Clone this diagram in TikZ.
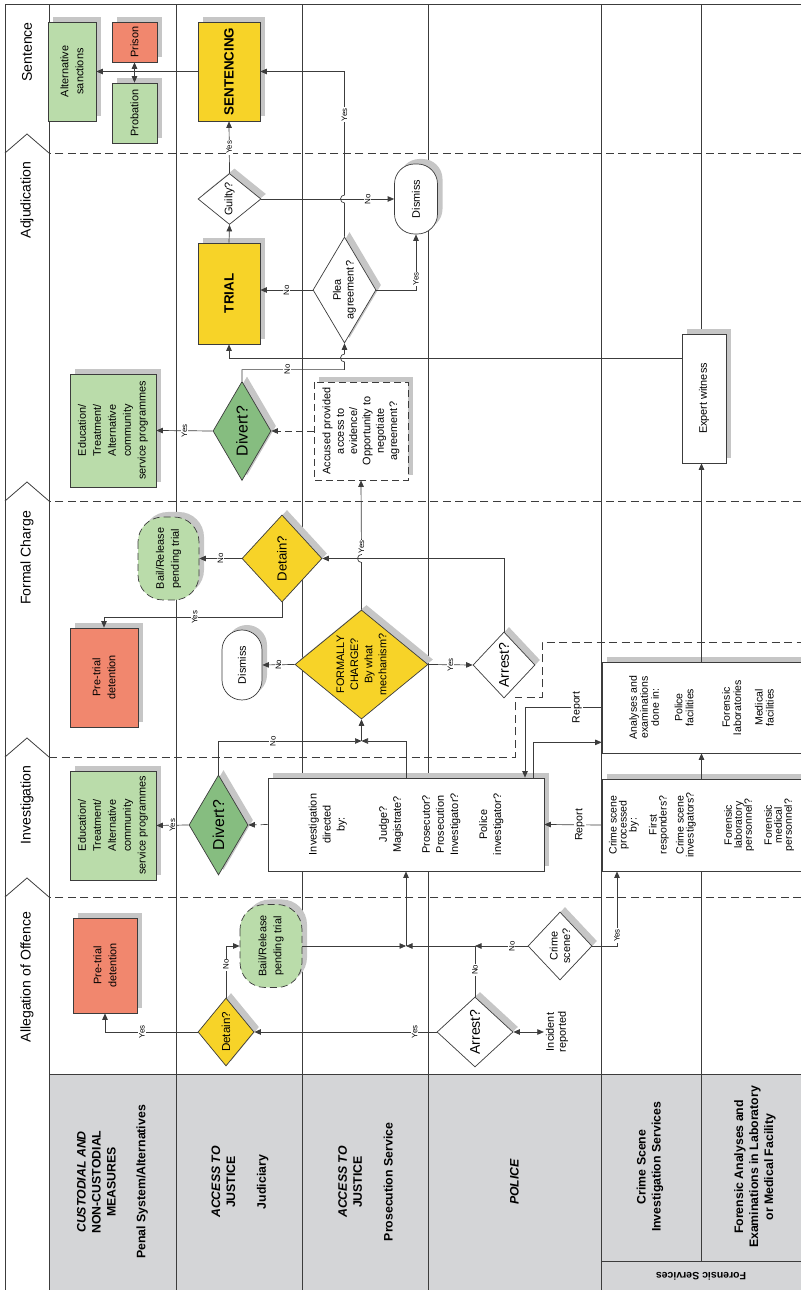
\documentclass[tikz,border=0pt]{standalone}
\usepackage{fontspec}
\setmainfont{Liberation Sans}
\usetikzlibrary{shapes.geometric,arrows.meta,shadows,calc}
\definecolor{flowyellow}{RGB}{247,211,40}
\definecolor{flowsalmon}{RGB}{241,135,110}
\definecolor{flowgreen}{RGB}{186,220,170}
\definecolor{flowdarkgreen}{RGB}{134,189,128}
\definecolor{headgray}{RGB}{212,213,215}
\definecolor{shadowgray}{RGB}{198,198,198}
\definecolor{inkgray}{RGB}{60,60,60}

\begin{document}
\begin{tikzpicture}[x=0.2mm, y=0.2mm,
    >={Triangle[length=1.3mm,width=1.1mm]},
    castshadow/.style={drop shadow={shadow xshift=1mm, shadow yshift=1mm, fill=shadowgray, opacity=1}},
    flowbox/.style={rectangle, draw=inkgray, line width=0.4pt, inner sep=1pt, align=center,
      font=\fontsize{6.2}{8.5}\selectfont, castshadow},
    query/.style={diamond, draw=inkgray, line width=0.4pt, inner sep=0pt, align=center,
      font=\fontsize{6.2}{7.2}\selectfont, castshadow},
    terminal/.style={flowbox, rounded corners=4mm},
    dashedge/.style={dash pattern=on 1.4mm off 0.8mm},
    link/.style={draw=inkgray, line width=0.4pt},
    yesno/.style={fill=white, inner sep=0.5pt, font=\fontsize{4.5}{5}\selectfont},
    reportlbl/.style={fill=white, inner sep=0.8pt, font=\fontsize{6}{7}\selectfont},
    laneline/.style={draw=inkgray, line width=0.45pt},
    phaseline/.style={draw=inkgray, line width=0.5pt, dash pattern=on 1.6mm off 0.9mm},
    phasename/.style={font=\fontsize{8}{9}\selectfont},
    lanehead/.style={align=center, font=\fontsize{7}{8.5}\selectfont\bfseries}]
\useasboundingbox (0,0) rectangle (801,1290);
\begin{scope}[shift={(801,0)}, rotate=90, transform shape]
\fill[headgray] (0,0) rectangle (216,752);
\draw[laneline] (0,796) -- (1286,796) -- (1286,0);
\foreach \y in {752,625,499,373,200}
  \draw[laneline] (0,\y) -- (1286,\y);
\draw[laneline] (29,99.5) -- (1286,99.5);
\draw[laneline] (216,0) -- (216,752);
\draw[laneline] (29,0) -- (29,200);
\foreach \x in {393,789,1137}
  \draw[phaseline] (\x,0) -- (\x,752);
\draw[phaseline] (533,752) -- (533,286) -- (593,286) -- (593,259) -- (648,259) -- (648,0);
\foreach \x in {393,533,789,1137}
  \draw[laneline] (\x,752) -- (\x+19,774) -- (\x,796);

\node[phasename] (allegation) at (313,774) {Allegation of Offence};
\node[phasename] (investigation) at (485,774) {Investigation};
\node[phasename] (formalcharge) at (732,774) {Formal Charge};
\node[phasename] (adjudication) at (1090,774) {Adjudication};
\node[phasename] (sentence) at (1238,774) {Sentence};

\node[lanehead] (penal) at (108,688.5) {\itshape CUSTODIAL AND\\NON-CUSTODIAL\\MEASURES\\[8.5pt]\upshape Penal System/Alternatives};
\node[lanehead] (judiciary) at (108,561) {\itshape ACCESS TO\\JUSTICE\\[9pt]\upshape Judiciary};
\node[lanehead] (prosecution) at (108,435.5) {\itshape ACCESS TO\\JUSTICE\\[9pt]\upshape Prosecution Service};
\node[lanehead] (police) at (108,286.5) {\itshape POLICE};
\node[lanehead] (csi) at (123,151) {Crime Scene\\Investigation Services};
\node[lanehead] (forensiclab) at (123,46) {Forensic Analyses and\\Examinations in Laboratory\\or Medical Facility};
\node[lanehead, font=\fontsize{6}{7}\selectfont\bfseries, rotate=90] (forensic) at (14,100) {Forensic Services};

\node[flowbox, fill=flowgreen, minimum width=19.8mm, minimum height=9.6mm] (altsanc) at (1218.5,729) {Alternative\\sanctions};
\node[flowbox, fill=flowsalmon, minimum width=8mm, minimum height=9mm] (prison) at (1248,666.5) {Prison};
\node[flowbox, fill=flowgreen, minimum width=12mm, minimum height=9mm] (probation) at (1177,666.5) {Probation};
\node[flowbox, fill=flowyellow, minimum width=19.8mm, minimum height=12.4mm, font=\fontsize{7.6}{9}\selectfont\bfseries] (sentencing) at (1218.5,572) {SENTENCING};
\node[query, fill=white, minimum width=10.2mm, minimum height=12.6mm] (guilty) at (1091,571.5) {Guilty?};
\node[flowbox, fill=flowyellow, minimum width=20.2mm, minimum height=12.4mm, font=\fontsize{7.6}{9}\selectfont\bfseries] (trial) at (996.5,572) {TRIAL};
\node[query, fill=white, aspect=2, minimum width=21.2mm, minimum height=12.6mm] (plea) at (1000,456.5) {Plea\\agreement?};
\node[terminal, fill=white, minimum width=14mm, minimum height=8.6mm] (dismissB) at (1091,385) {Dismiss};

\node[query, fill=flowdarkgreen, aspect=1.8, minimum width=19.8mm, minimum height=11.6mm, font=\fontsize{9}{10}\selectfont] (divertB) at (859,559) {Divert?};
\node[flowbox, fill=flowgreen, minimum width=22.6mm, minimum height=17.2mm] (eduB) at (859.5,688) {Education/\\Treatment/\\Alternative\\community\\service programmes};
\node[flowbox, fill=white, dashedge, minimum width=19.6mm, minimum height=18.8mm, font=\fontsize{6.2}{7.6}\selectfont] (accused) at (859,440) {Accused provided\\access to\\evidence/\\Opportunity to\\negotiate\\agreement?};
\node[flowbox, fill=white, minimum width=25.8mm, minimum height=8.8mm] (expert) at (891.5,97) {Expert witness};
\node[query, fill=flowyellow, minimum width=17.4mm, minimum height=16mm, font=\fontsize{7.5}{9}\selectfont] (detainB) at (731.5,519) {Detain?};
\node[terminal, fill=flowgreen, dashedge, rounded corners=5mm, minimum width=16.6mm, minimum height=12.2mm] (bailB) at (731.5,632.5) {Bail/Release\\pending trial};
\node[flowbox, fill=flowsalmon, minimum width=19.8mm, minimum height=13.6mm] (pretrialB) at (612.5,697) {Pre-trial\\detention};
\node[terminal, fill=white, minimum width=14mm, minimum height=8mm] (dismissA) at (625,559) {Dismiss};
\node[query, fill=flowyellow, aspect=0.8, minimum width=21.8mm, minimum height=26.6mm, font=\fontsize{6.2}{8}\selectfont] (charge) at (625.5,439.5) {FORMALLY\\CHARGE?\\By what\\mechanism?};
\node[query, fill=white, minimum width=13.2mm, minimum height=12.4mm, font=\fontsize{8}{9}\selectfont] (arrestB) at (625,297) {Arrest?};

\node[flowbox, fill=flowgreen, minimum width=21.8mm, minimum height=17.2mm] (eduA) at (464.5,688) {Education/\\Treatment/\\Alternative\\community\\service programmes};
\node[query, fill=flowdarkgreen, aspect=1.8, minimum width=20mm, minimum height=11.8mm, font=\fontsize{9}{10}\selectfont] (divertA) at (465,582.5) {Divert?};
\node[flowbox, fill=white, minimum width=18.6mm, minimum height=55.2mm, font=\fontsize{6.2}{8}\selectfont] (invest) at (465.5,395) {Investigation\\directed\\by:\\[16pt]Judge?\\Magistrate?\\[8.5pt]Prosecutor?\\Prosecution\\Investigator?\\[8.5pt]Police\\investigator?};
\node[flowbox, fill=flowsalmon, minimum width=19mm, minimum height=12.8mm] (pretrialA) at (324.5,696) {Pre-trial\\detention};
\node[query, fill=flowyellow, minimum width=13.6mm, minimum height=11.2mm, font=\fontsize{6.6}{8}\selectfont] (detainA) at (258,575) {Detain?};
\node[terminal, fill=flowgreen, dashedge, rounded corners=5mm, minimum width=16.6mm, minimum height=12.4mm] (bailA) at (344,530) {Bail/Release\\pending trial};
\node[query, fill=white, minimum width=14mm, minimum height=15.2mm, font=\fontsize{8}{9}\selectfont] (arrestA) at (258,326) {Arrest?};
\node[inner sep=1pt, align=center, font=\fontsize{6.2}{6.8}\selectfont] (incident) at (258,244) {Incident\\reported};
\node[query, fill=white, minimum width=13.6mm, minimum height=12.8mm] (crime) at (344,241) {Crime\\scene?};
\node[flowbox, fill=white, minimum width=18.4mm, minimum height=39.8mm, font=\fontsize{6}{5.7}\selectfont] (scene) at (465,99.5) {Crime scene\\processed\\by:\\[5.7pt]First\\responders?\\[4pt]Crime scene\\investigators?\\[16pt]Forensic\\laboratory\\personnel?\\[5.7pt]Forensic\\medical\\personnel?};
\node[flowbox, fill=white, minimum width=18.2mm, minimum height=39.8mm, font=\fontsize{6}{6.3}\selectfont] (analyses) at (582.5,99.5) {Analyses and\\examinations\\done in:\\[7pt]Police\\facilities\\[14.5pt]Forensic\\laboratories\\[6pt]Medical\\facilities};

\coordinate (J1) at (549,439.5);
\coordinate (J2) at (344,395);
\coordinate (T) at (344,326);
\coordinate (ewtop) at ($(expert.north)+(40.5,0)$);

\draw[link,->] (sentencing.north) -- (altsanc.south);
\draw[link,<->] (probation.east) -- (prison.west);
\draw[link,->] (guilty.east) -- node[yesno]{Yes} (sentencing.west);
\draw[link,->] (trial.east) -- (guilty.west);
\draw[link,->] (guilty.south) -- node[yesno,pos=0.8]{No} (dismissB.north);
\draw[link,->] (plea.east) -- ($(guilty.south |- plea.east)+(-4,0)$) arc[start angle=180,end angle=0,radius=0.8mm] -- node[yesno,pos=0.65]{Yes} (sentencing.south |- plea.east) -- (sentencing.south);
\draw[link,->] (plea.north) -- node[yesno]{No} (plea.north |- trial.south);
\draw[link,->] (plea.south) |- node[yesno,pos=0.6]{Yes} (dismissB.west);
\draw[link,->] (divertB.east) -- ++(11.5,0) |- node[yesno,pos=0.22]{No} ($(ewtop |- plea.west)+(-4,0)$) arc[start angle=180,end angle=0,radius=0.8mm] -- (plea.west);
\draw[link,->] (ewtop) |- (trial.west);

\draw[link,->] (divertB.north) -- node[yesno]{Yes} (eduB.south);
\draw[link,->,dashedge] (accused.north) -- (divertB.south);
\draw[link,->] (charge.east) -- ($(detainB.south |- charge.east)+(-4,0)$) arc[start angle=180,end angle=0,radius=0.8mm] -- node[yesno,pos=0.1]{Yes} (accused.west);
\draw[link,->] (arrestB.east) -| (detainB.south);
\draw[link,->] (detainB.north) -- node[yesno]{No} (bailB.south);
\draw[link,->] (detainB.west) -- ++(-15,0) |- node[yesno,pos=0.245]{Yes} (pretrialB.east);
\draw[link,->] (charge.north) -- node[yesno]{No} (dismissA.south);
\draw[link,->] (charge.south) -- node[yesno]{Yes} (arrestB.north);

\draw[link,->] (divertA.north) -- node[yesno]{Yes} (eduA.south);
\draw[link,->,dashedge] (invest.north) -- (divertA.south);
\draw[link,->] (divertA.east) -| node[yesno,pos=0.69]{No} (J1);
\draw[link,->] (invest.east) -| (J1);
\draw[link,->] (J1) -- (charge.west);

\draw[link,->] (detainA.north) |- node[yesno,pos=0.3]{Yes} (pretrialA.west);
\draw[link,->] (detainA.east) -| node[yesno,pos=0.32]{No} (bailA.north);
\draw[link,->] (arrestA.north) -- node[yesno,pos=0.12]{Yes} (detainA.south);
\draw[link,<->] (arrestA.south) -- (incident.north);
\draw[link] (arrestA.east) -- node[yesno,pos=0.53]{No} (T);
\draw[link,->] (crime.north) -- node[yesno,pos=0.3]{No} (T);
\draw[link,->] (T) -- (J2);
\draw[link,->] (bailA.south) -- (J2);
\draw[link,->] (J2) -- (invest.west);
\draw[link,->] (crime.south) |- node[yesno,pos=0.57]{Yes} ($(scene.west)+(0,84.5)$);

\draw[link,->] (scene.north) -- node[reportlbl,pos=0.38]{Report} (invest.south);
\draw[link,->] (analyses.north) |- node[reportlbl,pos=0.16]{Report} ($(invest.east)+(0,-119)$);
\draw[link,->] ($(invest.east)+(0,-127)$) -| ($(analyses.north west)+(11,0)$);
\draw[link,->] (scene.east) -- (analyses.west);
\draw[link,->] (analyses.east) -- (analyses.east -| expert.west);
\end{scope}
\end{tikzpicture}
\end{document}
